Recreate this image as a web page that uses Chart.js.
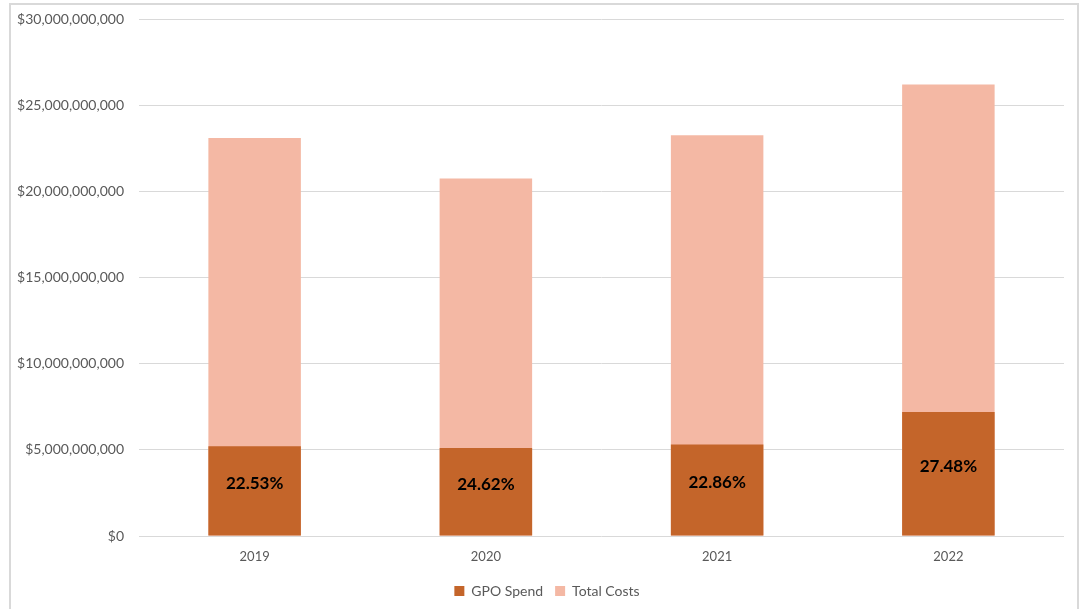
<!DOCTYPE html>
<html>
<head>
<meta charset="utf-8">
<script src="https://cdn.jsdelivr.net/npm/chart.js@4.4.0/dist/chart.umd.min.js"></script>
<style>
  html, body { margin: 0; padding: 0; background: #ffffff; overflow: hidden; }
  #frame {
    position: absolute; left: 9px; top: 3px; width: 1070px; height: 620px;
    border: 2px solid #d9d9d9; box-sizing: border-box;
  }
  #wrap { position: absolute; left: 0; top: 0; width: 1082px; height: 609px; }
</style>
</head>
<body>
<div id="frame"></div>
<div id="wrap"><canvas id="chart" width="1082" height="609"></canvas></div>
<script>
// Annual figures
const years = ['2019', '2020', '2021', '2022'];
const totalCosts = [23.1e9, 20.75e9, 23.25e9, 26.2e9];
const gpoSharePct = [22.53, 24.62, 22.86, 27.48];
// GPO spend is the stated share of each year's total costs
const gpoSpend = totalCosts.map((t, i) => t * gpoSharePct[i] / 100);
const yTicks = [0, 5e9, 10e9, 15e9, 20e9, 25e9, 30e9];

const FONT = 'Lato, "Open Sans", sans-serif';

// Percentage labels centred in the GPO bars
const shareLabels = {
  id: 'shareLabels',
  afterDatasetsDraw(chart) {
    const meta = chart.getDatasetMeta(0);
    const ctx = chart.ctx;
    ctx.save();
    ctx.font = 'bold 17px ' + FONT;
    ctx.fillStyle = '#000000';
    ctx.textAlign = 'center';
    ctx.textBaseline = 'middle';
    meta.data.forEach((bar, i) => {
      const mid = (bar.y + bar.base) / 2 - 7;
      ctx.fillText(gpoSharePct[i].toFixed(2) + '%', bar.x, mid);
    });
    ctx.restore();
  }
};

// Centre the legend under the framed area rather than the canvas
const legendShift = {
  id: 'legendShift',
  afterLayout(chart) {
    if (chart.legend) {
      chart.legend.left += 15;
      chart.legend.right += 15;
    }
  }
};

new Chart(document.getElementById('chart'), {
  type: 'bar',
  data: {
    labels: years,
    datasets: [
      {
        label: 'GPO Spend',
        data: gpoSpend,
        backgroundColor: '#C4652A',
        barPercentage: 0.8,
        categoryPercentage: 0.5
      },
      {
        label: 'Total Costs',
        data: totalCosts,
        backgroundColor: '#F4B8A4',
        barPercentage: 0.8,
        categoryPercentage: 0.5
      }
    ]
  },
  options: {
    responsive: false,
    animation: false,
    layout: { autoPadding: false, padding: { left: 0, right: 18, top: 19, bottom: 1 } },
    plugins: {
      tooltip: { enabled: false },
      legend: {
        position: 'bottom',
        labels: {
          boxWidth: 10,
          boxHeight: 10,
          padding: 12,
          color: '#595959',
          font: { family: FONT, size: 14 }
        }
      }
    },
    scales: {
      x: {
        stacked: true,
        grid: { display: false },
        border: { display: false },
        ticks: { color: '#595959', font: { family: FONT, size: 13 }, padding: 5 },
        afterFit(scale) { scale.height = 36; }
      },
      y: {
        stacked: false,
        min: 0,
        max: 30e9,
        afterBuildTicks(scale) { scale.ticks = yTicks.map(v => ({ value: v })); },
        grid: { color: '#d9d9d9', lineWidth: 1, drawTicks: false },
        border: { display: false },
        ticks: {
          color: '#595959',
          font: { family: FONT, size: 14 },
          padding: 15,
          callback: v => '$' + Number(v).toLocaleString('en-US')
        },
        afterFit(scale) {
          scale.width = 139;
          scale.paddingTop = 0;
          scale.paddingBottom = 0;
        }
      }
    }
  },
  plugins: [shareLabels, legendShift]
});
</script>
</body>
</html>
